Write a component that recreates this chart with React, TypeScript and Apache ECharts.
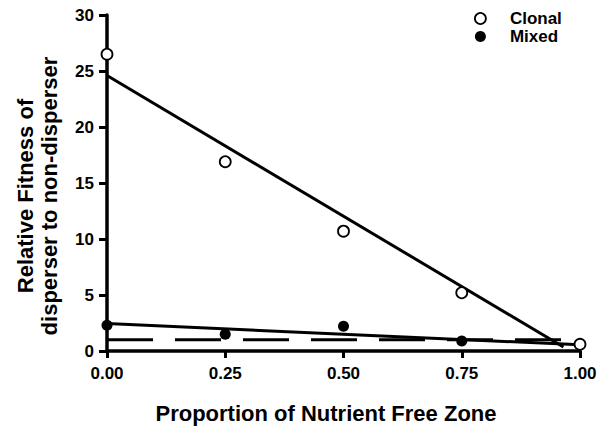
import React, { useEffect, useRef } from "react";
import * as echarts from "echarts";

const xValues = [0, 0.25, 0.5, 0.75, 1.0];
const clonal = [26.5, 16.9, 10.7, 5.2, 0.6];
const mixed = [2.3, 1.5, 2.2, 0.9, 0.6];
const clonalFitX = [0, 0.965];
const clonalFitY = [24.6, 0.35];
const mixedFitX = [0, 1.0];
const mixedFitY = [2.45, 0.55];
const refX = [0, 1.0];
const refY = [1, 1];
const xTicks = [0, 0.25, 0.5, 0.75, 1.0];
const yTicks = [0, 5, 10, 15, 20, 25, 30];
const seriesNames = ["Clonal", "Mixed"];
const xTitle = "Proportion of Nutrient Free Zone";
const yTitleLines = ["Relative Fitness of", "disperser to non-disperser"];

const FONT = "'Liberation Sans', Arial, Helvetica, sans-serif";

export default function App() {
  const ref = useRef<HTMLDivElement>(null);
  useEffect(() => {
    if (!ref.current) return;
    const chart = echarts.init(ref.current, undefined, { renderer: "svg" });
    const pairs = (xs: number[], ys: number[]) => xs.map((x, i) => [x, ys[i]]);
    const titleStyle = (text: string) => ({
      text,
      fill: "#000",
      font: `bold 22px ${FONT}`,
      align: "center",
      verticalAlign: "middle",
      textAlign: "center",
      textVerticalAlign: "middle",
    });
    chart.setOption({
      animation: false,
      backgroundColor: "#fff",
      grid: { left: 107, right: 31, top: 15, bottom: 76, containLabel: false },
      xAxis: {
        type: "value",
        min: xTicks[0],
        max: xTicks[xTicks.length - 1],
        interval: 0.25,
        splitLine: { show: false },
        axisLine: { show: true, onZero: true, lineStyle: { color: "#000", width: 3.5 } },
        axisTick: { show: true, inside: false, length: 7, lineStyle: { color: "#000", width: 3 } },
        axisLabel: {
          margin: 14,
          color: "#000",
          fontFamily: FONT,
          fontWeight: "bold",
          fontSize: 17,
          formatter: (v: number) => v.toFixed(2),
        },
      },
      yAxis: {
        type: "value",
        min: yTicks[0],
        max: yTicks[yTicks.length - 1],
        interval: 5,
        splitLine: { show: false },
        axisLine: { show: true, onZero: true, lineStyle: { color: "#000", width: 3.5 } },
        axisTick: { show: true, inside: false, length: 8, lineStyle: { color: "#000", width: 3 } },
        axisLabel: {
          margin: 13,
          color: "#000",
          fontFamily: FONT,
          fontWeight: "bold",
          fontSize: 17,
        },
      },
      legend: {
        orient: "vertical",
        left: 469,
        top: 5,
        itemGap: 1,
        itemWidth: 11,
        itemHeight: 11,
        textStyle: {
          color: "#000",
          fontFamily: FONT,
          fontWeight: "bold",
          fontSize: 17,
          lineHeight: 17,
          padding: [0, 0, 0, 19],
        },
        data: [
          { name: seriesNames[0], icon: "circle", itemStyle: { color: "#fff", borderColor: "#000", borderWidth: 1.8 } },
          { name: seriesNames[1], icon: "circle", itemStyle: { color: "#000", borderColor: "#000", borderWidth: 0 } },
        ],
      },
      graphic: [
        { type: "text", x: 326, y: 413, style: titleStyle(xTitle) },
        { type: "text", x: 25, y: 196, rotation: Math.PI / 2, style: titleStyle(yTitleLines[0]) },
        { type: "text", x: 49, y: 196, rotation: Math.PI / 2, style: titleStyle(yTitleLines[1]) },
      ],
      series: [
        {
          name: "ref",
          type: "line",
          data: pairs(refX, refY),
          symbol: "none",
          silent: true,
          z: 2,
          lineStyle: { color: "#000", width: 3, type: [46, 22] },
        },
        {
          name: "clonalFit",
          type: "line",
          data: pairs(clonalFitX, clonalFitY),
          symbol: "none",
          silent: true,
          z: 3,
          lineStyle: { color: "#000", width: 3 },
        },
        {
          name: "mixedFit",
          type: "line",
          data: pairs(mixedFitX, mixedFitY),
          symbol: "none",
          silent: true,
          z: 3,
          lineStyle: { color: "#000", width: 3 },
        },
        {
          name: seriesNames[1],
          type: "scatter",
          data: pairs(xValues, mixed),
          symbol: "circle",
          symbolSize: 11,
          z: 5,
          itemStyle: { color: "#000", borderColor: "#000", borderWidth: 0, opacity: 1 },
        },
        {
          name: seriesNames[0],
          type: "scatter",
          data: pairs(xValues, clonal),
          symbol: "circle",
          symbolSize: 11,
          z: 6,
          itemStyle: { color: "#fff", borderColor: "#000", borderWidth: 1.8, opacity: 1 },
        },
      ],
    });
    return () => chart.dispose();
  }, []);
  return (
    <div
      ref={ref}
      style={{ position: "fixed", left: 0, top: 0, width: 611, height: 427, background: "#fff" }}
    />
  );
}
